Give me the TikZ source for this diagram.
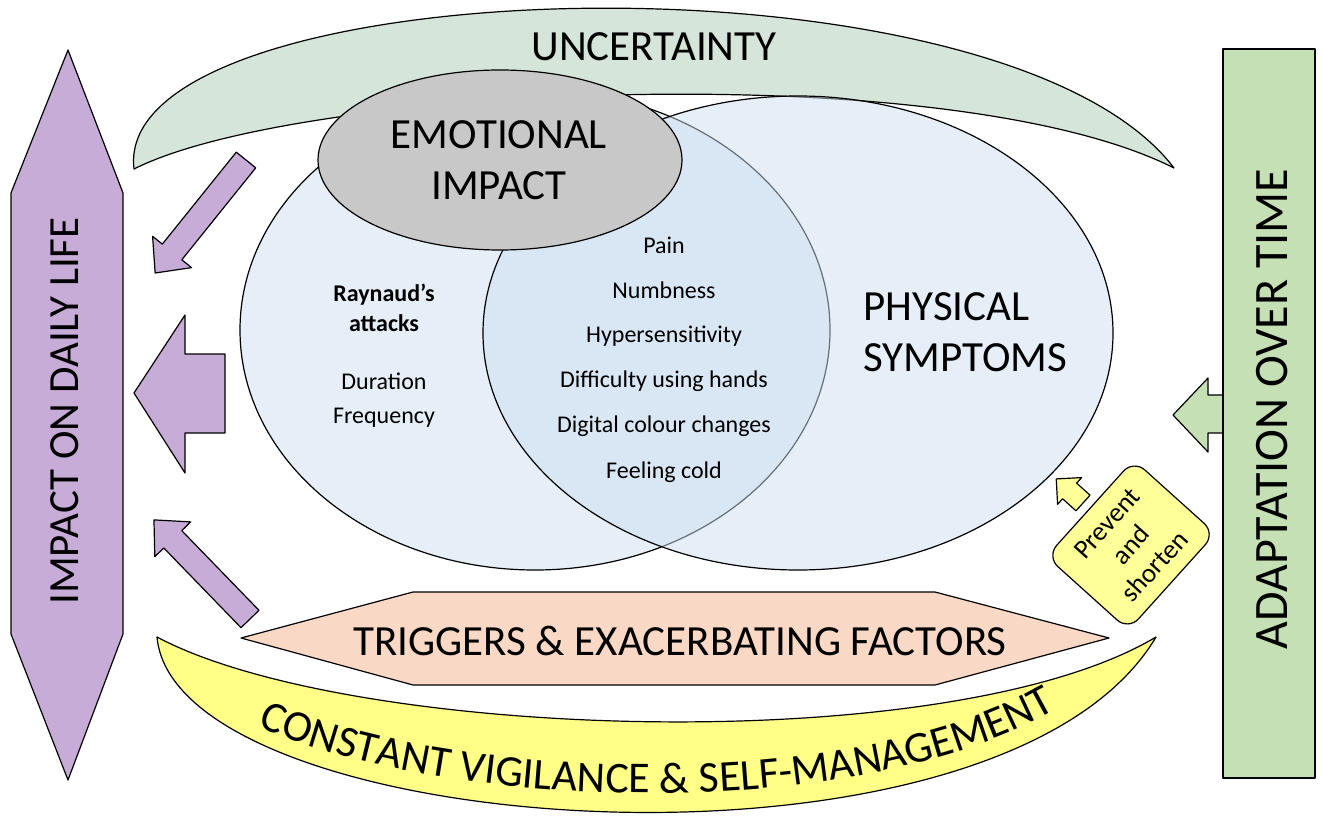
\documentclass[tikz,border=0pt]{standalone}
\usepackage{fontspec}
\setmainfont{Carlito}
\usetikzlibrary{decorations.text}

\definecolor{lilac}{RGB}{200,172,216}
\definecolor{sage}{RGB}{213,229,218}
\definecolor{leaf}{RGB}{197,224,180}
\definecolor{peach}{RGB}{249,217,197}
\definecolor{lemon}{RGB}{255,255,136}
\definecolor{lemonbox}{RGB}{255,255,153}
\definecolor{skyfill}{RGB}{230,239,248}
\definecolor{skyglass}{RGB}{205,223,241}
\definecolor{greyfill}{RGB}{200,200,200}

\begin{document}
\begin{tikzpicture}[x=1pt, y=-1pt, line join=round,
    outl/.style={draw=black, line width=1.2pt},
    bigtxt/.style={font=\fontsize{43}{51}\selectfont},
    smalltxt/.style={font=\fontsize{24}{30}\selectfont}]
  \useasboundingbox (0,0) rectangle (1322,821);

  % bands above and below
  \filldraw[outl, fill=sage] (134,169) .. controls (110,-30) and (1000,-60) .. (1174,168)
      .. controls (950,55) and (300,85) .. (134,169) -- cycle;
  \filldraw[outl, fill=lemon] (157,637) .. controls (175,840) and (1000,900) .. (1156,637)
      .. controls (950,760) and (350,740) .. (157,637) -- cycle;

  % the three ellipses
  \filldraw[outl, fill=skyfill] (535,330) ellipse [x radius=295pt, y radius=240pt];
  \filldraw[outl, fill=skyglass, fill opacity=0.5] (798,333) ellipse [x radius=315pt, y radius=237pt];
  \filldraw[outl, fill=greyfill] (500,160) ellipse [x radius=182pt, y radius=90pt];

  % triggers
  \filldraw[outl, fill=peach] (241,638) -- (413,592) -- (935,592) -- (1109,638)
      -- (935,685) -- (413,685) -- cycle;

  % impact on daily life
  \filldraw[outl, fill=lilac] (68,50) -- (123,193) -- (123,634) -- (68,780)
      -- (11,634) -- (11,193) -- cycle;
  \filldraw[outl, fill=lilac] (225,354) -- (185,354) -- (185,315) -- (134,393)
      -- (185,473) -- (185,433) -- (225,433) -- cycle;
  \begin{scope}[shift={(246,160)}, rotate=-128.8]
    \filldraw[outl, fill=lilac] (0,-12.5) -- (118,-12.5) -- (118,-25) -- (145,0)
        -- (118,25) -- (118,12.5) -- (0,12.5) -- cycle;
  \end{scope}
  \begin{scope}[shift={(250,619)}, rotate=134.1]
    \filldraw[outl, fill=lilac] (0,-12.5) -- (111,-12.5) -- (111,-25) -- (138,0)
        -- (111,25) -- (111,12.5) -- (0,12.5) -- cycle;
  \end{scope}

  % adaptation over time
  \filldraw[outl, fill=leaf] (1223,395) -- (1208,395) -- (1208,378) -- (1173,415)
      -- (1208,452) -- (1208,433) -- (1223,433) -- cycle;
  \filldraw[outl, fill=leaf] (1223,49) rectangle (1315,778);

  % prevent and shorten
  \node[outl, fill=lemonbox, rounded corners=15pt, rotate=48, minimum width=130pt,
        minimum height=110pt, align=center, font=\fontsize{27}{32}\selectfont]
        (prevent) at (1131,545) {Prevent\\and\\shorten};
  \begin{scope}[shift={(1083,503)}, rotate=138]
    \filldraw[outl, fill=lemonbox] (0,-10.5) -- (18,-10.5) -- (18,-18) -- (36,0)
        -- (18,18) -- (18,10.5) -- (0,10.5) -- cycle;
  \end{scope}

  % labels
  \node[bigtxt] (uncert) at (654,47) {UNCERTAINTY};
  \node[bigtxt, align=center] (emot) at (499,160) {EMOTIONAL\\IMPACT};
  \node[bigtxt, align=left, anchor=west] (phys) at (860,332) {PHYSICAL\\SYMPTOMS};
  \node[bigtxt] (trig) at (680,641) {TRIGGERS \& EXACERBATING FACTORS};
  \node[bigtxt, rotate=90] (daily) at (65,411) {IMPACT ON DAILY LIFE};
  \node[font=\fontsize{48}{54}\selectfont, rotate=90] (adapt) at (1272,409) {ADAPTATION OVER TIME};
  \path[decorate, decoration={text along path, text align=center,
        text={|\fontsize{44}{50}\selectfont|CONSTANT VIGILANCE {\&} SELF-MANAGEMENT}}]
        (262,728) .. controls (450,810) and (850,825) .. (1052,712);

  \node[font=\fontsize{24}{30}\selectfont\bfseries, align=center] (attack) at (384,308) {Raynaud’s\\attacks};
  \node[font=\fontsize{24}{34}\selectfont, align=center] (durfreq) at (384,400) {Duration\\Frequency};
  \foreach \txt [count=\i] in {Pain, Numbness, Hypersensitivity, Difficulty using hands,
      Digital colour changes, Feeling cold}
    \node[smalltxt] (sym\i) at (664,200+45.3*\i) {\txt};
\end{tikzpicture}
\end{document}
